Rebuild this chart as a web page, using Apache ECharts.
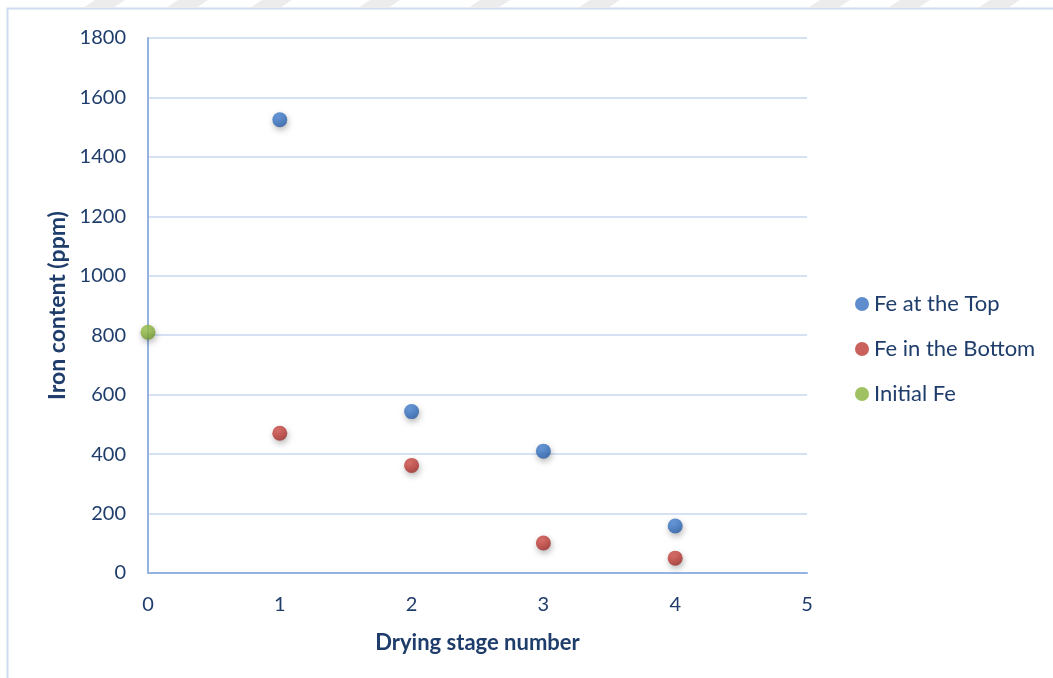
<!DOCTYPE html>
<html><head><meta charset="utf-8">
<script src="https://cdn.jsdelivr.net/npm/echarts@6/dist/echarts.min.js"></script>
<style>html,body{margin:0;padding:0;background:#fff}#c{width:1053px;height:678px}</style>
</head><body><div id="c"></div>
<script>
const seriesNames = ['Fe at the Top', 'Fe in the Bottom', 'Initial Fe'];
const topX = [1, 2, 3, 4];
const topY = [1525, 543, 410, 158];
const bottomX = [1, 2, 3, 4];
const bottomY = [470, 362, 101, 50];
const initialX = [0];
const initialY = [810];
const yTicks = [0, 200, 400, 600, 800, 1000, 1200, 1400, 1600, 1800];
const xTicks = [0, 1, 2, 3, 4, 5];

const txt = '#1f3d6b';
const font = 'Lato, "Open Sans", sans-serif';
function grad(light, mid, dark) {
  return { type: 'radial', x: 0.4, y: 0.35, r: 0.7,
    colorStops: [{offset: 0, color: light}, {offset: 0.55, color: mid}, {offset: 1, color: dark}] };
}
const colors = [
  grad('#4a84d4', '#3470c0', '#2658a0'),
  grad('#d2514c', '#bd3a35', '#992b27'),
  grad('#9fc64e', '#88b23a', '#6b902b')
];
const legendColors = ['#3470c0', '#bd3a35', '#88b23a'];
function pts(xs, ys) { return xs.map((x, i) => [x, ys[i]]); }
const datas = [pts(topX, topY), pts(bottomX, bottomY), pts(initialX, initialY)];

const chart = echarts.init(document.getElementById('c'));
chart.setOption({
  animation: false,
  graphic: [
    { type: 'rect', shape: {x: 7.5, y: 8.5, width: 1060, height: 680}, style: {fill: 'none', stroke: '#cddcf0', lineWidth: 2} },
    { type: 'polygon', shape: {points: [[95,0],[125,0],[113,8],[83,8]]}, style: {fill: '#ececec'} },
    { type: 'polygon', shape: {points: [[178,0],[208,0],[196,8],[166,8]]}, style: {fill: '#ececec'} },
    { type: 'polygon', shape: {points: [[262,0],[292,0],[280,8],[250,8]]}, style: {fill: '#ececec'} },
    { type: 'polygon', shape: {points: [[370,0],[400,0],[388,8],[358,8]]}, style: {fill: '#ececec'} },
    { type: 'polygon', shape: {points: [[480,0],[510,0],[498,8],[468,8]]}, style: {fill: '#ececec'} },
    { type: 'polygon', shape: {points: [[590,0],[620,0],[608,8],[578,8]]}, style: {fill: '#ececec'} },
    { type: 'polygon', shape: {points: [[820,0],[850,0],[838,8],[808,8]]}, style: {fill: '#ececec'} },
    { type: 'polygon', shape: {points: [[900,0],[930,0],[918,8],[888,8]]}, style: {fill: '#ececec'} },
    { type: 'polygon', shape: {points: [[990,0],[1020,0],[1008,8],[978,8]]}, style: {fill: '#ececec'} }
  ],
  grid: { left: 148, right: 246, top: 38, bottom: 105 },
  legend: {
    orient: 'vertical', left: 850, top: 288, itemGap: 23, itemWidth: 14, itemHeight: 14,
    icon: 'circle',
    textStyle: { color: txt, fontSize: 22, fontFamily: font, padding: [0, 0, 0, 0] },
    data: seriesNames.map((n, i) => ({ name: n, itemStyle: { color: legendColors[i] } }))
  },
  xAxis: {
    type: 'value', min: 0, max: 5, interval: 1,
    name: 'Drying stage number', nameLocation: 'middle', nameGap: 59,
    nameTextStyle: { color: txt, fontSize: 22, fontWeight: 'bold', fontFamily: font },
    axisLine: { show: true, onZero: false, lineStyle: { color: '#95b3e0', width: 2 } },
    axisTick: { show: false },
    splitLine: { show: false },
    axisLabel: { color: txt, fontSize: 20, fontFamily: font, margin: 22,
      formatter: v => xTicks.includes(v) ? String(v) : '' }
  },
  yAxis: {
    type: 'value', min: 0, max: 1800, interval: 200,
    name: 'Iron content (ppm)', nameLocation: 'middle', nameGap: 79,
    nameTextStyle: { color: txt, fontSize: 23, fontWeight: 'bold', fontFamily: font },
    axisLine: { show: true, lineStyle: { color: '#95b3e0', width: 2 } },
    axisTick: { show: false },
    splitLine: { show: true, lineStyle: { color: '#d6e2f4', width: 2 } },
    axisLabel: { color: txt, fontSize: 20, fontFamily: font, margin: 22,
      formatter: v => yTicks.includes(v) ? String(v) : '' }
  },
  series: seriesNames.map((n, i) => ({
    name: n, type: 'scatter', data: datas[i], symbol: 'circle', symbolSize: 15,
    itemStyle: { color: colors[i], shadowBlur: 6, shadowColor: 'rgba(0,0,0,0.35)', shadowOffsetX: 1, shadowOffsetY: 3 },
    z: 3
  }))
});
</script></body></html>
